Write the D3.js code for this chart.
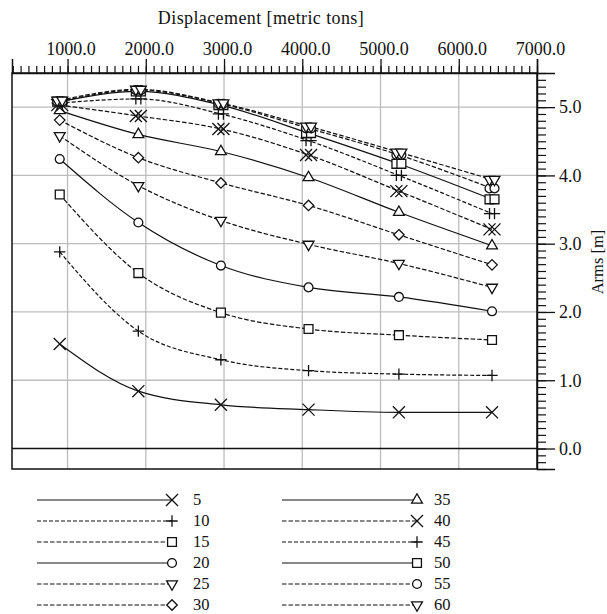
<!DOCTYPE html>
<html>
<head>
<meta charset="utf-8">
<script src="https://cdn.jsdelivr.net/npm/d3@7/dist/d3.min.js"></script>
<style>
  body { margin: 0; background: #fff; }
  svg text { font-family: "Liberation Serif", "Times New Roman", Tinos, "DejaVu Serif", serif; }
</style>
</head>
<body>
<div id="chart"></div>
<script>
// displacement of the six computed hulls [metric tons]
var displacement = [900, 1905, 2960, 4080, 5235, 6425];

// Arms [m] per curve
var arms5  = [1.53, 0.84, 0.64, 0.57, 0.53, 0.53];
var arms10 = [2.88, 1.72, 1.30, 1.14, 1.09, 1.07];
var arms15 = [3.72, 2.57, 1.99, 1.75, 1.66, 1.59];
var arms20 = [4.24, 3.31, 2.68, 2.36, 2.22, 2.01];
var arms25 = [4.58, 3.85, 3.34, 2.99, 2.71, 2.36];
var arms30 = [4.81, 4.26, 3.89, 3.56, 3.13, 2.69];
var arms35 = [4.95, 4.60, 4.35, 3.97, 3.46, 2.97];
var arms40 = [5.03, 4.87, 4.68, 4.30, 3.77, 3.21];
var arms45 = [5.06, 5.12, 4.90, 4.51, 4.00, 3.44];
var arms50 = [5.08, 5.23, 5.03, 4.62, 4.17, 3.65];
var arms55 = [5.08, 5.25, 5.05, 4.69, 4.30, 3.81];
var arms60 = [5.10, 5.26, 5.06, 4.72, 4.34, 3.94];

var seriesNames = ["5", "10", "15", "20", "25", "30", "35", "40", "45", "50", "55", "60"];
var seriesValues = [arms5, arms10, arms15, arms20, arms25, arms30,
                    arms35, arms40, arms45, arms50, arms55, arms60];

var xTicks = [1000, 2000, 3000, 4000, 5000, 6000, 7000];
var yTicks = [0, 1, 2, 3, 4, 5];

var serif = "Liberation Serif, Times New Roman, Tinos, DejaVu Serif, serif";

var width = 607, height = 614,
    margin = {top: 73, right: 70, bottom: 145, left: 12},
    innerWidth = 537 - margin.left,
    innerHeight = 469 - margin.top;

// marker + dash style per curve
var symbols = {
  times: d3.symbolTimes, plus: d3.symbolPlus, square: d3.symbolSquare2,
  circle: d3.symbolCircle, tri: d3.symbolTriangle2, diamond: d3.symbolDiamond2
};
var symSize = {times: 96, plus: 44, square: 100, circle: 62, tri: 84, diamond: 70};
var styles = [
  {m: "times", dash: null}, {m: "plus", dash: "4,2"}, {m: "square", dash: "4.5,2"},
  {m: "circle", dash: null}, {m: "tri", dash: "4.5,2", down: true}, {m: "diamond", dash: "4.5,2"},
  {m: "tri", dash: null}, {m: "times", dash: "4.5,2"}, {m: "plus", dash: "4,2"},
  {m: "square", dash: null}, {m: "circle", dash: "4.5,2"}, {m: "tri", dash: "4.5,2", down: true}
];
// the upper curves show doubled markers in the original
var doubled = [false, false, false, false, false, false, false, true, true, true, true, true];

var series = seriesNames.map(function(n, i) {
  return {name: n, style: styles[i], dbl: doubled[i],
    values: displacement.map(function(d, j) { return [d, seriesValues[i][j]]; })};
});

var svg = d3.select("#chart").append("svg")
    .attr("width", width)
    .attr("height", height)
    .attr("font-family", serif);

var g = svg.append("g")
    .attr("transform", "translate(" + margin.left + "," + margin.top + ")");

var x = d3.scaleLinear().domain([290, 7000]).range([0, innerWidth]);
var y = d3.scaleLinear().domain([-0.3, 5.5]).range([innerHeight, 0]);

// grid
g.append("g").selectAll("line")
  .data(xTicks.slice(0, -1))
  .enter().append("line")
    .attr("x1", function(d) { return x(d); })
    .attr("x2", function(d) { return x(d); })
    .attr("y1", 0).attr("y2", innerHeight)
    .attr("stroke", "#bdbdbd").attr("stroke-width", 1.3);

g.append("g").selectAll("line")
  .data(yTicks)
  .enter().append("line")
    .attr("x1", 0).attr("x2", innerWidth)
    .attr("y1", function(d) { return y(d); })
    .attr("y2", function(d) { return y(d); })
    .attr("stroke", function(d) { return d === 0 ? "#111" : "#bdbdbd"; })
    .attr("stroke-width", 1.3);

// frame
g.append("rect")
    .attr("width", innerWidth).attr("height", innerHeight)
    .attr("fill", "none").attr("stroke", "#111").attr("stroke-width", 1.5);

function styleTicks(a) {
  a.attr("font-family", serif);
  a.select(".domain").attr("stroke", "#111").attr("stroke-width", 1.5);
  a.selectAll("line").attr("stroke", "#111").attr("stroke-width", 1.3);
  a.selectAll("text").attr("font-size", 18).attr("font-family", serif).attr("fill", "#111");
}

function minorTicks(a) {
  a.select(".domain").remove();
  a.selectAll("text").remove();
  a.selectAll("line").attr("stroke", "#111").attr("stroke-width", 1.2);
}

// top axis (minor + major)
g.append("g")
    .call(d3.axisTop(x).tickValues(d3.range(300, 7001, 100)).tickSize(7).tickFormat(""))
    .call(minorTicks);

g.append("g")
    .call(d3.axisTop(x).tickValues(xTicks).tickSize(14).tickPadding(4).tickFormat(d3.format(".1f")))
    .call(styleTicks)
    .call(function(a) { a.selectAll("text").attr("dx", 3); });

// right axis (minor + major)
g.append("g")
    .attr("transform", "translate(" + innerWidth + ",0)")
    .call(d3.axisRight(y).tickValues(d3.range(-3, 56).map(function(d) { return d / 10; })).tickSize(9).tickFormat(""))
    .call(minorTicks);

g.append("g")
    .attr("transform", "translate(" + innerWidth + ",0)")
    .call(d3.axisRight(y).tickValues(yTicks).tickSize(18).tickPadding(4).tickFormat(d3.format(".1f")))
    .call(styleTicks);

// titles
svg.append("text")
    .attr("x", 261).attr("y", 24)
    .attr("text-anchor", "middle")
    .attr("font-size", 18).attr("letter-spacing", 0.4).attr("fill", "#111")
    .text("Displacement [metric tons]");

svg.append("text")
    .attr("transform", "translate(597,262) rotate(-90)")
    .attr("text-anchor", "middle")
    .attr("dy", "0.35em")
    .attr("font-size", 16.5).attr("fill", "#111")
    .text("Arms [m]");

// curves
var line = d3.line()
    .x(function(d) { return x(d[0]); })
    .y(function(d) { return y(d[1]); })
    .curve(d3.curveMonotoneX);

g.append("g").selectAll("path")
  .data(series)
  .enter().append("path")
    .attr("d", function(d) { return line(d.values); })
    .attr("fill", "none")
    .attr("stroke", "#111")
    .attr("stroke-width", 1.2)
    .attr("stroke-dasharray", function(d) { return d.style.dash; });

function symbolPath(st) {
  return d3.symbol().type(symbols[st.m]).size(symSize[st.m])();
}

function drawMarker(sel, st, px, py) {
  sel.append("path")
      .attr("d", symbolPath(st))
      .attr("transform", "translate(" + px + "," + py + ")" + (st.down ? " rotate(180)" : ""))
      .attr("fill", "#fff")
      .attr("stroke", "#111")
      .attr("stroke-width", 1.3);
}

var marks = g.append("g");
series.forEach(function(s) {
  s.values.forEach(function(d) {
    if (s.dbl) {
      drawMarker(marks, s.style, x(d[0]) - 2.5, y(d[1]));
      drawMarker(marks, s.style, x(d[0]) + 2.5, y(d[1]));
    } else {
      drawMarker(marks, s.style, x(d[0]), y(d[1]));
    }
  });
});

// legend
var legX0 = [37, 282], legX1 = [172, 417], legText = [193, 434];
var legend = svg.append("g");
series.forEach(function(s, i) {
  var col = i < 6 ? 0 : 1, row = i % 6, ly = 500 + row * 21;
  legend.append("line")
      .attr("x1", legX0[col]).attr("x2", legX1[col])
      .attr("y1", ly).attr("y2", ly)
      .attr("stroke", "#111").attr("stroke-width", 1.2)
      .attr("stroke-dasharray", s.style.dash);
  drawMarker(legend, s.style, legX1[col], ly);
  legend.append("text")
      .attr("x", legText[col]).attr("y", ly)
      .attr("dy", "0.32em")
      .attr("font-size", 16.5).attr("fill", "#111")
      .text(s.name);
});
</script>
</body>
</html>
